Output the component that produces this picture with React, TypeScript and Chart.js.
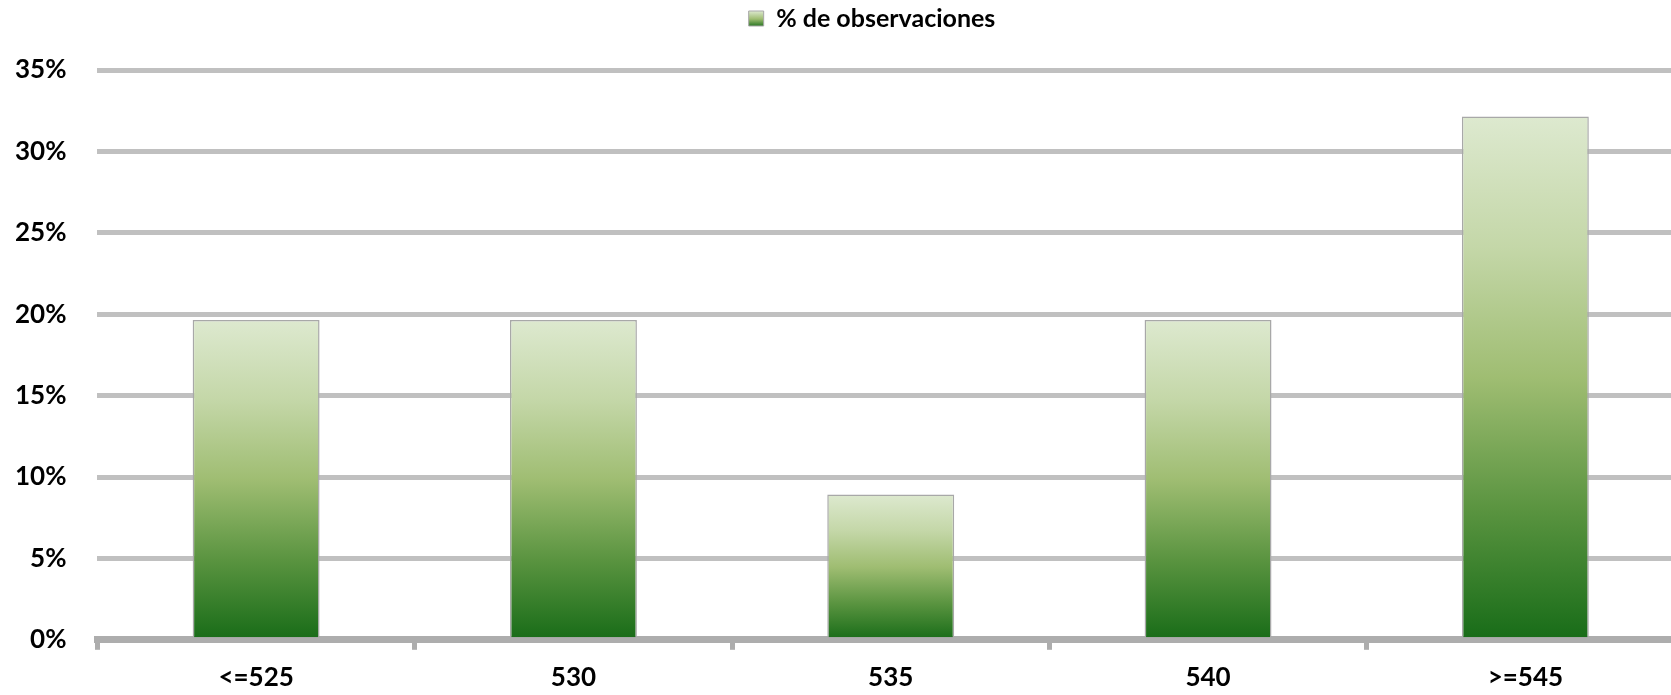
import React, { useEffect, useRef } from "react";
import { Chart, registerables } from "chart.js";

Chart.register(...registerables);

const categories = ["<=525", "530", "535", "540", ">=545"];
const seriesLabel = "% de observaciones";
const values = [19.64, 19.64, 8.93, 19.64, 32.14];
const yTicks = [0, 5, 10, 15, 20, 25, 30, 35];

const CANVAS_W = 1702;
const CANVAS_H = 705;
const LEGEND_EXTRA = 29;
const LEGEND_SHIFT = 38;

const legendTweak = {
  id: "legendTweak",
  beforeLayout(chart: any) {
    const lg = chart.legend;
    if (lg && !lg._spaced) {
      const orig = lg.fit;
      lg.fit = function (this: any) {
        orig.call(this);
        this.height += LEGEND_EXTRA;
      };
      lg._spaced = true;
    }
  },
  afterLayout(chart: any) {
    const lg = chart.legend;
    if (lg) {
      lg.left += LEGEND_SHIFT;
      lg.right += LEGEND_SHIFT;
    }
  },
};

export default function App() {
  const ref = useRef<HTMLCanvasElement | null>(null);

  useEffect(() => {
    document.body.style.margin = "0";
    document.body.style.overflow = "hidden";
    const canvas = ref.current;
    if (!canvas) return;

    const barGradient = (ctx: any) => {
      const chart = ctx.chart;
      const y = chart.scales?.y;
      if (!y || !chart.chartArea || ctx.dataIndex === undefined) return "#8db25f";
      const v = values[ctx.dataIndex];
      const top = y.getPixelForValue(v);
      const bottom = y.getPixelForValue(0);
      const g = chart.ctx.createLinearGradient(0, top, 0, bottom);
      g.addColorStop(0, "#dde9cf");
      g.addColorStop(0.25, "#c4d7a8");
      g.addColorStop(0.5, "#9fbd72");
      g.addColorStop(0.75, "#5a9440");
      g.addColorStop(1, "#186c18");
      return g;
    };

    const chart = new Chart(canvas, {
      type: "bar",
      data: {
        labels: categories,
        datasets: [
          {
            label: seriesLabel,
            data: values,
            backgroundColor: barGradient,
            borderColor: "#a8a8a8",
            borderWidth: 1.5,
            categoryPercentage: 1,
            barPercentage: 0.4,
          },
        ],
      },
      plugins: [legendTweak],
      options: {
        animation: false,
        responsive: false,
        maintainAspectRatio: false,
        layout: { padding: { left: 0, right: 2, top: -2, bottom: 0 } },
        plugins: {
          tooltip: { enabled: false },
          legend: {
            display: true,
            position: "top",
            labels: {
              color: "#000",
              font: { family: "Lato", size: 25, weight: "bold" },
              boxWidth: 15,
              boxHeight: 15,
              padding: 8,
              generateLabels: (c: any) => {
                const g = c.ctx.createLinearGradient(0, 11, 0, 27);
                g.addColorStop(0, "#dde9cf");
                g.addColorStop(0.5, "#9fbd72");
                g.addColorStop(1, "#186c18");
                return [
                  {
                    text: seriesLabel,
                    fillStyle: g,
                    strokeStyle: "#a8a8a8",
                    lineWidth: 1,
                    fontColor: "#000",
                    datasetIndex: 0,
                  },
                ];
              },
            },
          },
        },
        scales: {
          x: {
            z: 1,
            grid: {
              display: true,
              drawOnChartArea: false,
              drawTicks: true,
              tickLength: 10,
              lineWidth: 5,
              color: "#adadad",
              offset: true,
            },
            border: { display: true, color: "#adadad", width: 7 },
            ticks: {
              color: "#000",
              font: { family: "Lato", size: 26, weight: "bold" },
              padding: 12,
              maxRotation: 0,
            },
          },
          y: {
            min: 0,
            max: 35,
            afterBuildTicks: (axis: any) => {
              axis.ticks = yTicks.map((v) => ({ value: v }));
            },
            grid: {
              color: "#c0c0c0",
              lineWidth: 5,
              drawTicks: false,
            },
            border: { display: false },
            ticks: {
              color: "#000",
              font: { family: "Lato", size: 26, weight: "bold" },
              padding: 31,
              callback: (v: any) => v + "%",
            },
          },
        },
      },
    });
    return () => chart.destroy();
  }, []);

  return (
    <div style={{ position: "fixed", left: -16, top: 0, width: CANVAS_W, height: CANVAS_H }}>
      <canvas
        ref={ref}
        width={CANVAS_W}
        height={CANVAS_H}
        style={{ width: CANVAS_W, height: CANVAS_H, display: "block" }}
      />
    </div>
  );
}
